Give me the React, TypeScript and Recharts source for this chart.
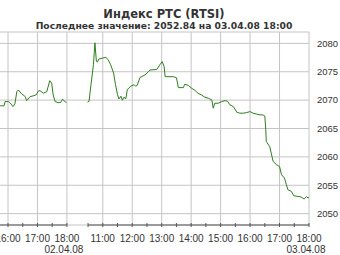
import React from "react";
import { LineChart, Line, XAxis, YAxis, CartesianGrid, ReferenceLine } from "recharts";

// 02.04.08 session tail
const day1Times = [
  "15:44", "15:52", "15:54", "16:01", "16:04", "16:10", "16:14", "16:18", "16:21", "16:28",
  "16:35", "16:38", "16:45", "16:51", "16:57", "17:02", "17:05", "17:12", "17:19", "17:25",
  "17:29", "17:32", "17:36", "17:42", "17:47", "17:51", "17:56", "17:59",
];
const day1Values = [
  2069.0, 2069.0, 2069.74, 2069.74, 2069.56, 2068.86, 2069.33, 2071.49, 2071.79, 2071.09,
  2070.62, 2069.91, 2070.62, 2070.74, 2070.91, 2071.62, 2071.67, 2071.21, 2071.49, 2073.42,
  2072.97, 2070.91, 2069.74, 2069.56, 2069.56, 2070.16, 2069.74, 2069.56,
];

// 03.04.08 session
const day2Times = [
  "10:29", "10:32", "10:36", "10:41", "10:44", "10:47", "10:49", "10:52", "10:59", "11:06",
  "11:11", "11:16", "11:22", "11:26", "11:30", "11:33", "11:37", "11:40", "11:43", "11:47",
  "11:50", "11:53", "11:57", "12:04", "12:07", "12:10", "12:16", "12:26", "12:33", "12:36",
  "12:50", "12:56", "13:01", "13:05", "13:07", "13:24", "13:30", "13:34", "13:44", "13:47",
  "13:54", "14:01", "14:08", "14:14", "14:21", "14:28", "14:35", "14:42", "14:45", "14:48",
  "14:55", "15:02", "15:09", "15:14", "15:19", "15:26", "15:33", "15:39", "15:46", "15:53",
  "16:00", "16:06", "16:13", "16:20", "16:26", "16:30", "16:32", "16:33", "16:40", "16:43",
  "16:47", "16:54", "17:00", "17:04", "17:10", "17:14", "17:17", "17:24", "17:29", "17:37",
  "17:44", "17:50", "17:55", "17:58", "18:00",
];
const day2Values = [
  2069.63, 2069.8, 2072.72, 2076.24, 2080.1, 2076.84, 2076.7, 2077.24, 2077.4, 2077.54,
  2077.12, 2076.24, 2074.78, 2072.72, 2070.97, 2070.2, 2070.69, 2069.98, 2070.5, 2070.26,
  2071.85, 2072.14, 2072.44, 2072.72, 2072.44, 2072.6, 2074.0, 2074.43, 2075.0, 2075.3,
  2075.4, 2076.2, 2076.77, 2075.9, 2074.13, 2074.13, 2073.95, 2072.2, 2072.2, 2072.8,
  2072.6, 2072.09, 2071.7, 2071.2, 2070.91, 2070.5, 2070.33, 2070.04, 2068.58, 2069.45,
  2069.45, 2069.74, 2069.91, 2069.8, 2069.16, 2068.86, 2067.87, 2067.7, 2067.7, 2067.8,
  2067.98, 2067.7, 2067.55, 2067.4, 2067.4, 2067.2, 2064.76, 2062.71, 2061.83, 2060.67,
  2059.19, 2058.61, 2058.31, 2056.85, 2056.27, 2055.1, 2054.22, 2053.92, 2053.16, 2053.04,
  2052.93, 2052.58, 2053.0, 2052.76, 2052.84,
];

const day1Ticks = ["16:00", "16:30", "17:00", "17:30", "18:00"];
const day2Ticks = [
  "10:30", "11:00", "11:30", "12:00", "12:30", "13:00", "13:30", "14:00", "14:30",
  "15:00", "15:30", "16:00", "16:30", "17:00", "17:30", "18:00",
];
const day1Date = "02.04.08";
const day2Date = "03.04.08";
const yTicks = [2050, 2055, 2060, 2065, 2070, 2075, 2080];

const title = "Индекс РТС (RTSI)";
const subtitle = "Последнее значение: 2052.84 на  03.04.08 18:00";

// night gap between sessions is squeezed, day 2 shifted onto the same axis
const DAY2_OFFSET = 493;
const X_MIN = 943.7;
const X_MAX = 1573;

function toMin(t: string) {
  const [h, m] = t.split(":").map(Number);
  return h * 60 + m;
}
function pos(day: number, t: string) {
  return toMin(t) + (day === 2 ? DAY2_OFFSET : 0);
}

const data = [
  ...day1Times.map((t, i) => ({ pos: pos(1, t), value: day1Values[i] })),
  { pos: 1100, value: null },
  ...day2Times.map((t, i) => ({ pos: pos(2, t), value: day2Values[i] })),
];

type TickInfo = { label: string | null; date: string | null };
const tickInfo = new Map<number, TickInfo>();
day1Ticks.forEach((t) =>
  tickInfo.set(pos(1, t), {
    label: t.endsWith(":00") ? t : null,
    date: t === "18:00" ? day1Date : null,
  })
);
day2Ticks.forEach((t) =>
  tickInfo.set(pos(2, t), {
    label: t.endsWith(":00") ? t : null,
    date: t === "18:00" ? day2Date : null,
  })
);
const xTicks = Array.from(tickInfo.keys());
const hourLines = xTicks.filter((p) => tickInfo.get(p)!.label);

const textColor = "#333";
const gridColor = "#c4c4c4";
const tickFont = "'Liberation Sans Narrow', 'Liberation Sans', Arial, sans-serif";

function TimeTick(props: any) {
  const { x, y, payload } = props;
  const info = tickInfo.get(payload.value);
  return (
    <g>
      <line x1={x} x2={x} y1={y - 2} y2={y + 2} stroke="#555" />
      {info?.label && (
        <text x={x} y={y + 17} textAnchor="middle" fill={textColor} fontSize={10} fontFamily={tickFont}>
          {info.label}
        </text>
      )}
      {info?.date && (
        <text x={x - 3} y={y + 28} textAnchor="middle" fill={textColor} fontSize={10} fontFamily={tickFont}>
          {info.date}
        </text>
      )}
    </g>
  );
}

export default function App() {
  return (
    <div style={{ position: "absolute", left: 0, top: 0, width: 340, height: 255, background: "#fff" }}>
      <div
        style={{
          position: "absolute",
          left: 0,
          top: 8,
          width: 328,
          textAlign: "center",
          fontFamily: "'DejaVu Sans', Verdana, sans-serif",
          color: textColor,
          fontSize: 11.5,
          lineHeight: "12px",
        }}
      >
        <div style={{ fontWeight: 600 }}>{title}</div>
        <div style={{ fontSize: 9.2, fontWeight: 600 }}>{subtitle}</div>
      </div>
      <LineChart width={340} height={255} data={data} margin={{ top: 32, right: 0, left: 0, bottom: 0 }}>
        <CartesianGrid vertical={false} stroke={gridColor} />
        {hourLines.map((p) => (
          <ReferenceLine key={p} x={p} stroke={gridColor} />
        ))}
        <ReferenceLine
          segment={[
            { x: X_MIN, y: 2048 },
            { x: pos(1, "18:00"), y: 2048 },
          ]}
          stroke="#555"
        />
        <ReferenceLine
          segment={[
            { x: pos(2, "10:30"), y: 2048 },
            { x: pos(2, "18:00"), y: 2048 },
          ]}
          stroke="#555"
        />
        <XAxis
          type="number"
          dataKey="pos"
          domain={[X_MIN, X_MAX]}
          ticks={xTicks}
          interval={0}
          axisLine={false}
          tickLine={false}
          tickSize={0}
          tickMargin={0}
          height={30}
          tick={<TimeTick />}
        />
        <YAxis
          orientation="right"
          domain={[2048, 2082]}
          ticks={yTicks}
          interval={0}
          width={31}
          axisLine={false}
          tickLine={false}
          tickSize={0}
          tickMargin={8}
          tick={{ fill: textColor, fontSize: 9.5, fontFamily: tickFont, textAnchor: "start" }}
        />
        <Line
          type="linear"
          dataKey="value"
          stroke="#2f7d20"
          strokeWidth={1}
          dot={false}
          isAnimationActive={false}
          connectNulls={false}
        />
      </LineChart>
    </div>
  );
}
